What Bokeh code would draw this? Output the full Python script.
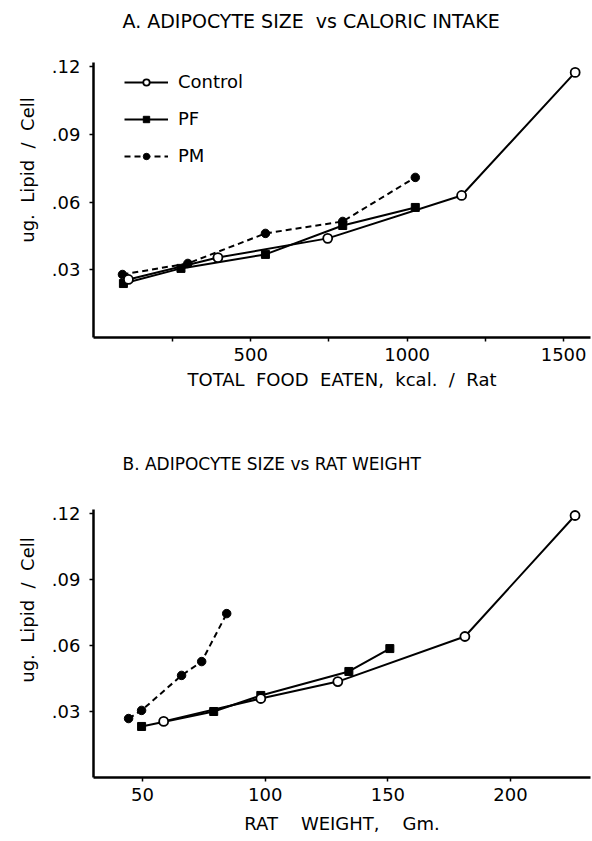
from bokeh.plotting import figure
from bokeh.layouts import column
from bokeh.models import (Range1d, FixedTicker, CustomJSTickFormatter, Legend,
                          LegendItem, Label)
from bokeh.embed import file_html
from bokeh.resources import INLINE

# ---------------- data ----------------
# Panel A: total food eaten (kcal / rat) vs ug lipid / cell
a_control_x = [109, 395, 746, 1174, 1537]
a_control_y = [0.0257, 0.0354, 0.0439, 0.0629, 0.1174]
a_pf_x = [93, 277, 547, 794, 1026]
a_pf_y = [0.0239, 0.0306, 0.0368, 0.0496, 0.0576]
a_pm_x = [90, 299, 547, 794, 1026]
a_pm_y = [0.0279, 0.0328, 0.0461, 0.0514, 0.0709]

# Panel B: rat weight (g) vs ug lipid / cell
b_control_x = [58.6, 98.2, 129.6, 181.4, 226.3]
b_control_y = [0.0255, 0.0359, 0.0436, 0.0641, 0.1191]
b_pf_x = [49.6, 79.0, 98.2, 134.1, 150.8]
b_pf_y = [0.0232, 0.0300, 0.0373, 0.0482, 0.0586]
b_pm_x = [44.3, 49.6, 65.9, 74.1, 84.3]
b_pm_y = [0.0268, 0.0305, 0.0464, 0.0527, 0.0745]

y_ticks = [0.03, 0.06, 0.09, 0.12]
y_axis_top = 0.1218
a_x_ticks = [500, 1000, 1500]
a_x_minor = [250, 750, 1250]
b_x_ticks = [50, 100, 150, 200]

NB = "\u00a0"
title_a = "A. ADIPOCYTE SIZE " + NB + "vs CALORIC INTAKE"
title_b = "B. ADIPOCYTE SIZE vs RAT WEIGHT"
xlabel_a = ("TOTAL" + NB + " FOOD" + NB + " EATEN," + NB + " kcal."
            + NB + " /" + NB + " Rat")
xlabel_b = "RAT" + NB + NB + NB + " WEIGHT," + NB + NB + NB + " Gm."
ylabel = "ug." + NB + " Lipid" + NB + " /" + NB + " Cell"

FONT = "DejaVu Sans"


def style(p, xlabel, xlabel_standoff):
    p.outline_line_color = None
    p.xgrid.visible = False
    p.ygrid.visible = False
    p.background_fill_color = "white"
    p.border_fill_color = "white"
    for ax in (p.xaxis[0], p.yaxis[0]):
        ax.axis_line_width = 2.5
        ax.axis_line_color = "black"
        ax.major_tick_line_color = "black"
        ax.major_tick_line_width = 1.5
        ax.major_tick_out = 4
        ax.major_tick_in = 0
        ax.minor_tick_line_color = "black"
        ax.minor_tick_line_width = 1.5
        ax.minor_tick_out = 4
        ax.minor_tick_in = 0
        ax.major_label_text_font = FONT
        ax.major_label_text_font_size = "18px"
        ax.major_label_text_color = "black"
        ax.axis_label_text_font = FONT
        ax.axis_label_text_font_size = "18px"
        ax.axis_label_text_font_style = "normal"
        ax.axis_label_text_color = "black"
    p.xaxis.major_label_standoff = 6
    p.yaxis.major_label_standoff = 9
    p.xaxis.axis_label = xlabel
    p.yaxis.axis_label = ylabel
    p.xaxis.axis_label_standoff = xlabel_standoff
    p.yaxis.axis_label_standoff = 11
    p.yaxis.bounds = (0, y_axis_top)
    p.yaxis.ticker = FixedTicker(ticks=y_ticks, minor_ticks=[])
    p.yaxis.formatter = CustomJSTickFormatter(
        code="return tick.toFixed(2).replace(/^0/, '')")


def add_series(p, cx, cy, fx, fy, mx, my):
    lc = p.line(cx, cy, line_color="black", line_width=2)
    lf = p.line(fx, fy, line_color="black", line_width=2)
    lm = p.line(mx, my, line_color="black", line_width=2, line_dash="6 4")
    sf = p.scatter(fx, fy, marker="square", size=8, fill_color="black",
                   line_color="black")
    sm = p.scatter(mx, my, marker="circle", size=8.5, fill_color="black",
                   line_color="black")
    sc = p.scatter(cx, cy, marker="circle", size=9, fill_color="white",
                   line_color="black", line_width=1.8)
    return (lc, sc), (lf, sf), (lm, sm)


def add_title(p, text, y_from_bottom, size):
    p.add_layout(Label(text=text, x=29, y=y_from_bottom, x_units="screen",
                       y_units="screen", text_baseline="middle",
                       text_align="left", text_font=FONT,
                       text_font_size=size, text_color="black"))


# ---------------- panel A ----------------
# frame spans page y 2..337; value axis drawn only up to y_axis_top
pa = figure(width=592, height=440, x_range=Range1d(-2.6, 1586),
            y_range=Range1d(0, 0.14836), output_backend="svg",
            toolbar_location=None, min_border_left=93, min_border_right=2,
            min_border_top=2, min_border_bottom=103)
style(pa, xlabel_a, 5)
pa.xaxis.ticker = FixedTicker(ticks=a_x_ticks, minor_ticks=a_x_minor)
ctrl, pf, pm = add_series(pa, a_control_x, a_control_y, a_pf_x, a_pf_y,
                          a_pm_x, a_pm_y)
add_title(pa, title_a, 317, "19px")
legend = Legend(items=[LegendItem(label="Control", renderers=list(ctrl)),
                       LegendItem(label="PF", renderers=list(pf)),
                       LegendItem(label="PM", renderers=list(pm))],
                location=(31, 171), glyph_width=44, glyph_height=16,
                label_standoff=10, spacing=16, padding=0, margin=0,
                border_line_alpha=0, background_fill_alpha=0,
                label_text_font=FONT, label_text_font_size="18px",
                label_text_color="black")
pa.add_layout(legend)

# ---------------- panel B ----------------
pb = figure(width=592, height=401, x_range=Range1d(30.0, 232.6),
            y_range=Range1d(0, 0.15227), output_backend="svg",
            toolbar_location=None, min_border_left=93, min_border_right=2,
            min_border_top=2, min_border_bottom=64)
style(pb, xlabel_b, 9)
pb.xaxis.ticker = FixedTicker(ticks=b_x_ticks, minor_ticks=[])
add_series(pb, b_control_x, b_control_y, b_pf_x, b_pf_y, b_pm_x, b_pm_y)
add_title(pb, title_b, 314, "17px")

layout = column(pa, pb, spacing=0)
open("out.html", "w").write(file_html(layout, INLINE))
